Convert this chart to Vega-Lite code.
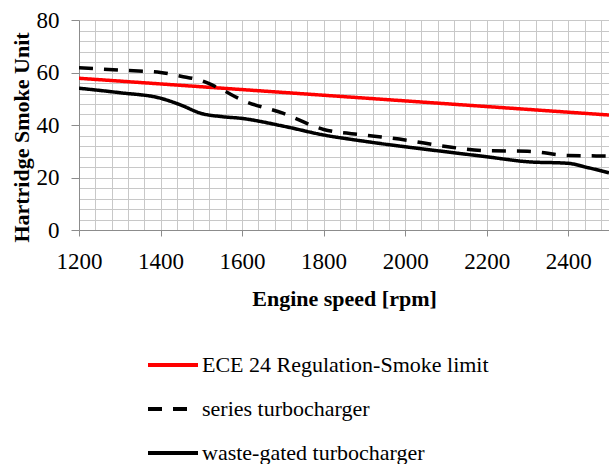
{
  "$schema": "https://vega.github.io/schema/vega-lite/v6.json",
  "width": 530,
  "height": 210,
  "autosize": {"type": "none"},
  "padding": {"left": 79, "top": 20, "right": 0, "bottom": 234},
  "background": "white",
  "config": {
    "view": {"stroke": null},
    "font": "Liberation Serif, Times New Roman, serif",
    "axis": {"labelColor": "#000", "titleColor": "#000", "gridColor": "#c8c8c8", "gridWidth": 1, "domainColor": "#8c8c8c", "tickColor": "#8c8c8c"}
  },
  "data": {
    "values": [
      {"series": "ECE 24 Regulation-Smoke limit", "rpm": 1200, "hsu": 57.8},
      {"series": "ECE 24 Regulation-Smoke limit", "rpm": 2500, "hsu": 43.8},
      {"series": "series turbocharger", "rpm": 1200, "hsu": 61.8},
      {"series": "series turbocharger", "rpm": 1300, "hsu": 60.9},
      {"series": "series turbocharger", "rpm": 1400, "hsu": 60.0},
      {"series": "series turbocharger", "rpm": 1450, "hsu": 58.6},
      {"series": "series turbocharger", "rpm": 1500, "hsu": 56.9},
      {"series": "series turbocharger", "rpm": 1550, "hsu": 53.5},
      {"series": "series turbocharger", "rpm": 1600, "hsu": 49.5},
      {"series": "series turbocharger", "rpm": 1700, "hsu": 44.5},
      {"series": "series turbocharger", "rpm": 1800, "hsu": 38.3},
      {"series": "series turbocharger", "rpm": 1900, "hsu": 36.2},
      {"series": "series turbocharger", "rpm": 2000, "hsu": 34.3},
      {"series": "series turbocharger", "rpm": 2100, "hsu": 31.8},
      {"series": "series turbocharger", "rpm": 2200, "hsu": 30.2},
      {"series": "series turbocharger", "rpm": 2300, "hsu": 30.0},
      {"series": "series turbocharger", "rpm": 2400, "hsu": 28.4},
      {"series": "series turbocharger", "rpm": 2500, "hsu": 28.2},
      {"series": "waste-gated turbocharger", "rpm": 1200, "hsu": 54.0},
      {"series": "waste-gated turbocharger", "rpm": 1300, "hsu": 52.3},
      {"series": "waste-gated turbocharger", "rpm": 1400, "hsu": 50.2},
      {"series": "waste-gated turbocharger", "rpm": 1450, "hsu": 47.6},
      {"series": "waste-gated turbocharger", "rpm": 1500, "hsu": 44.4},
      {"series": "waste-gated turbocharger", "rpm": 1550, "hsu": 43.2},
      {"series": "waste-gated turbocharger", "rpm": 1600, "hsu": 42.5},
      {"series": "waste-gated turbocharger", "rpm": 1700, "hsu": 39.6},
      {"series": "waste-gated turbocharger", "rpm": 1800, "hsu": 36.2},
      {"series": "waste-gated turbocharger", "rpm": 1900, "hsu": 33.8},
      {"series": "waste-gated turbocharger", "rpm": 2000, "hsu": 31.7},
      {"series": "waste-gated turbocharger", "rpm": 2100, "hsu": 29.8},
      {"series": "waste-gated turbocharger", "rpm": 2200, "hsu": 27.9},
      {"series": "waste-gated turbocharger", "rpm": 2300, "hsu": 26.0},
      {"series": "waste-gated turbocharger", "rpm": 2400, "hsu": 25.4},
      {"series": "waste-gated turbocharger", "rpm": 2450, "hsu": 23.7},
      {"series": "waste-gated turbocharger", "rpm": 2500, "hsu": 21.8}
    ]
  },
  "mark": {"type": "line", "interpolate": "monotone", "strokeWidth": 3.5, "clip": true},
  "encoding": {
    "x": {
      "field": "rpm", "type": "quantitative",
      "scale": {"domain": [1200, 2500], "nice": false, "zero": false},
      "axis": {
        "title": "Engine speed [rpm]",
        "titleFont": "Liberation Serif, Times New Roman, serif", "titleFontSize": 22, "titleFontWeight": "bold",
        "titleBaseline": "middle", "titleY": 68,
        "values": [1200,1240,1280,1320,1360,1400,1440,1480,1520,1560,1600,1640,1680,1720,1760,1800,1840,1880,1920,1960,2000,2040,2080,2120,2160,2200,2240,2280,2320,2360,2400,2440,2480],
        "labelExpr": "datum.value % 200 === 0 ? datum.label : ''",
        "format": "d",
        "labelFont": "Liberation Serif, Times New Roman, serif", "labelFontSize": 23, "labelPadding": 14,
        "tickSize": 6,
        "tickOpacity": {"condition": {"test": "datum.value % 200 === 0", "value": 1}, "value": 0},
        "labelFlush": false, "labelOverlap": false
      }
    },
    "y": {
      "field": "hsu", "type": "quantitative",
      "scale": {"domain": [0, 80], "nice": false},
      "axis": {
        "title": "Hartridge Smoke Unit",
        "titleFont": "Liberation Serif, Times New Roman, serif", "titleFontSize": 22, "titleFontWeight": "bold",
        "titleBaseline": "middle", "titleX": -58, "titleY": 117, "titleAngle": -90,
        "values": [0,4,8,12,16,20,24,28,32,36,40,44,48,52,56,60,64,68,72,76,80],
        "labelExpr": "datum.value % 20 === 0 ? datum.label : ''",
        "labelFont": "Liberation Serif, Times New Roman, serif", "labelFontSize": 23, "labelPadding": 12,
        "tickSize": 8,
        "tickOpacity": {"condition": {"test": "datum.value % 20 === 0", "value": 1}, "value": 0},
        "labelFlush": false, "labelOverlap": false
      }
    },
    "color": {
      "field": "series", "type": "nominal",
      "scale": {"domain": ["ECE 24 Regulation-Smoke limit", "series turbocharger", "waste-gated turbocharger"], "range": ["#ff0000", "#000000", "#000000"]},
      "legend": {
        "title": null, "orient": "none", "legendX": 67, "legendY": 318, "direction": "vertical",
        "symbolType": "stroke", "symbolSize": 2500, "symbolStrokeWidth": 4,
        "labelFont": "Liberation Serif, Times New Roman, serif", "labelFontSize": 22, "labelColor": "#000", "labelLimit": 400,
        "rowPadding": 6, "labelOffset": 2
      }
    },
    "strokeDash": {
      "field": "series", "type": "nominal",
      "scale": {"domain": ["ECE 24 Regulation-Smoke limit", "series turbocharger", "waste-gated turbocharger"], "range": [[1, 0], [14, 11], [1, 0]]},
      "legend": {
        "title": null, "orient": "none", "legendX": 67, "legendY": 318, "direction": "vertical",
        "symbolType": "stroke", "symbolSize": 2500, "symbolStrokeWidth": 4,
        "labelFont": "Liberation Serif, Times New Roman, serif", "labelFontSize": 22, "labelColor": "#000", "labelLimit": 400,
        "rowPadding": 6, "labelOffset": 2
      }
    }
  }
}
